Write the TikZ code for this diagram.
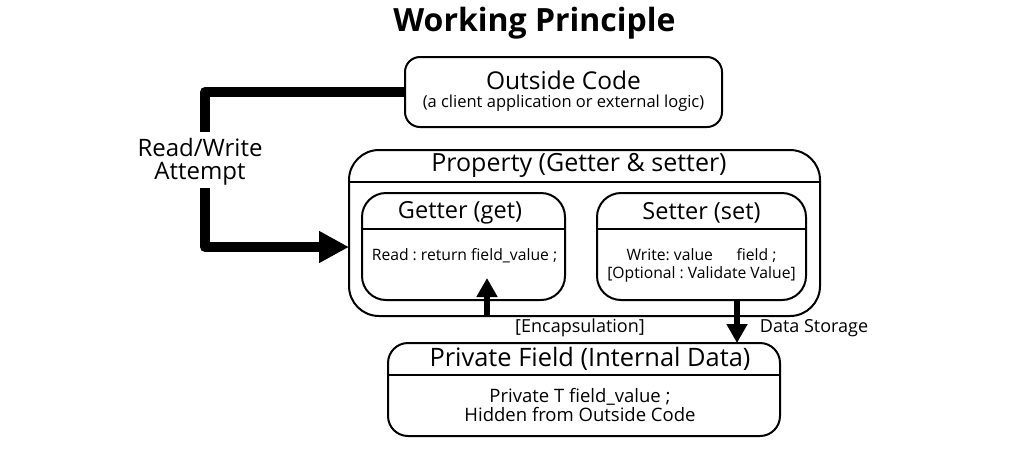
\documentclass[tikz,border=0pt]{standalone}
\usepackage{fontspec}
\setmainfont{Open Sans}
\frenchspacing
\usetikzlibrary{arrows.meta,positioning}
\tikzset{
  box/.style={draw,line width=2pt,rounded corners=#1,inner sep=0pt,outer sep=0pt},
  sep/.style={line width=2pt},
  big/.style={font=\fontsize{24.5}{28}\selectfont},
  small/.style={font=\fontsize{15.7}{18}\selectfont},
  flow/.style={line width=10pt,line join=round},
  thin arrow/.style={line width=6pt,-{Triangle[length=19pt,width=20pt]}}
}
\begin{document}
\begin{tikzpicture}[x=1pt,y=-1pt,line cap=butt]
\useasboundingbox (0,0) rectangle (1024,448);
% title
\node[font=\fontsize{32}{36}\bfseries] (title) at (534.5,23) {Working Principle};
% outside code
\node[box=15pt,minimum width=317pt,minimum height=70pt] (outside) at (563.5,92) {};
\node[big] (outsideT) at (563.5,80) {Outside Code};
\node[font=\fontsize{16.5}{19}\selectfont] (outsideS) at (563.5,103) {(a client application or external logic)};
% property
\node[box=30pt,minimum width=471pt,minimum height=166pt] (prop) at (584.5,233) {};
\draw[sep] (prop.west |- 0,182) -- (prop.east |- 0,182);
\node[big,font=\fontsize{25}{28}\selectfont] (propT) at (579,165) {Property (Getter \& setter)};
% getter
\node[box=24pt,minimum width=203pt,minimum height=107pt] (getter) at (463.5,246.5) {};
\draw[sep] (getter.west |- 0,229) -- (getter.east |- 0,229);
\node[big,font=\fontsize{23.5}{28}\selectfont] (getterT) at (460,213) {Getter (get)};
\node[small] (getterB) at (464.5,256) {Read : return field\_value ;};
% setter
\node[box=24pt,minimum width=209pt,minimum height=107pt] (setter) at (701.5,246.5) {};
\draw[sep] (setter.west |- 0,229) -- (setter.east |- 0,229);
\node[big,font=\fontsize{23.5}{28}\selectfont] (setterT) at (701.5,213) {Setter (set)};
\node[small,align=center] (setterB) at (701.5,265) {Write: value\hspace{1.5em}field ;\\{}[Optional : Validate Value]};
% private field
\node[box=20pt,minimum width=392pt,minimum height=93pt] (private) at (584,389.5) {};
\draw[sep] (private.west |- 0,375) -- (private.east |- 0,375);
\node[big,font=\fontsize{25.4}{28}\selectfont] (privateT) at (590,359) {Private Field (Internal Data)};
\node[font=\fontsize{18.5}{19}\selectfont,align=center] (privateB) at (580,405.5) {Private T field\_value ;\\Hidden from Outside Code};
% read / write attempt
\node[align=center,font=\fontsize{24}{23}\selectfont,minimum height=56pt] (rw) at (200,162) {Read/Write\\Attempt};
\coordinate (rwtop) at (205,132);
\coordinate (rwbot) at (205,188);
\draw[flow] (outside.west) -| (rwtop);
\draw[flow,-{Triangle[length=30pt,width=30pt]}] (rwbot) |- (prop.west |- 0,247);
% getter / setter <-> field
\coordinate (gtip) at (487,278);
\coordinate (sx) at (737,300);
\draw[thin arrow] (prop.south -| gtip) -- (gtip);
\draw[thin arrow] (sx) -- (private.north -| sx);
\node[font=\fontsize{18}{21}\selectfont] (enc) at (580,328) {[Encapsulation]};
\node[font=\fontsize{18}{21}\selectfont] (store) at (814,328) {Data Storage};
\end{tikzpicture}
\end{document}
